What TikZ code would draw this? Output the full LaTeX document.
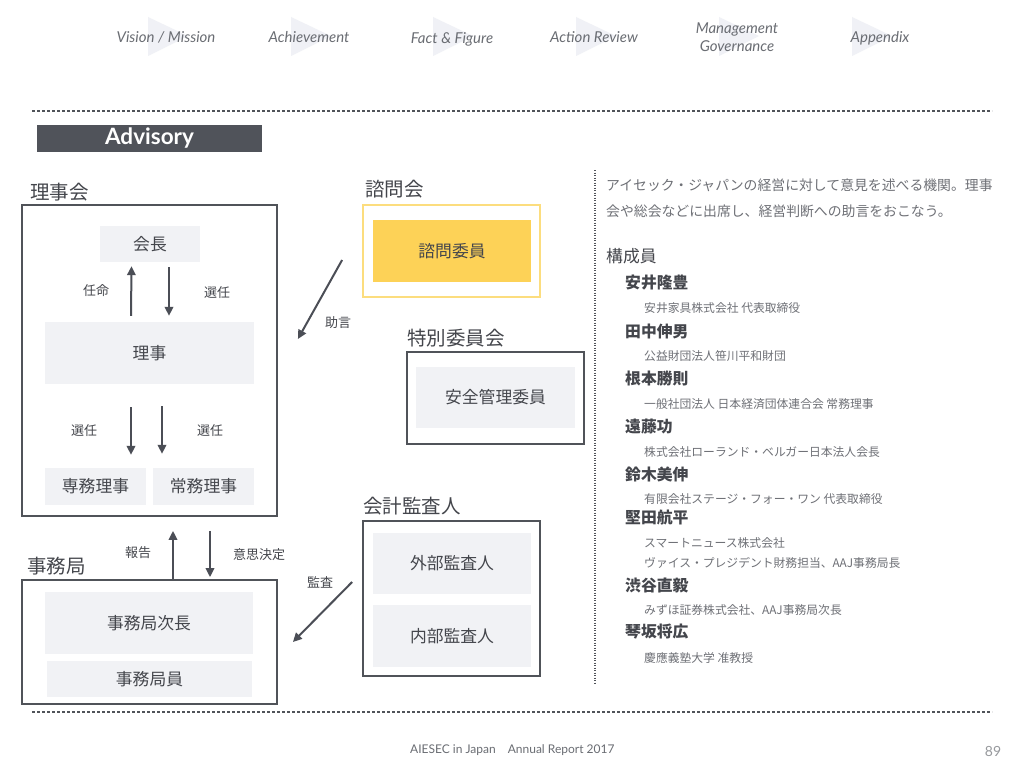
\documentclass[tikz,border=0pt]{standalone}
\usepackage{fontspec}
\setmainfont{Lato}
\newfontfamily\cjk{Noto Sans CJK JP}
\newfontfamily\lato{Lato}
\usetikzlibrary{arrows.meta}
\definecolor{framec}{HTML}{505359}
\definecolor{arrc}{HTML}{4B4E56}
\definecolor{fillc}{HTML}{F1F2F5}
\definecolor{txtc}{HTML}{44464C}
\definecolor{subc}{HTML}{6E7076}
\definecolor{yelfill}{HTML}{FDD257}
\definecolor{yelline}{HTML}{FCDD7E}
\definecolor{navc}{HTML}{6A6D73}
\definecolor{tric}{HTML}{F0F1F6}
\definecolor{banc}{HTML}{50535A}
\tikzset{
  frame/.style={draw=framec, line width=1.8pt, inner sep=0pt, fill=white},
  inbox/.style={fill=fillc, inner sep=0pt, text=txtc, font=\cjk\fontsize{16.8}{19}\selectfont},
  title/.style={anchor=west, text=txtc, inner sep=0pt, font=\cjk\fontsize{19.5}{23}\selectfont},
  lab/.style={text=txtc, inner sep=0pt, font=\cjk\fontsize{13}{15}\selectfont},
  arr/.style={draw=arrc, line width=2pt, -{Triangle[length=9pt,width=8.5pt]}},
  nav/.style={text=navc, inner sep=0pt, align=center, font=\lato\itshape\fontsize{15}{18.5}\selectfont},
  sepline/.style={draw=framec, line width=1.3pt, dash pattern=on 3pt off 2pt},
  para/.style={anchor=west, text=subc, inner sep=0pt, font=\cjk\fontsize{13.85}{16}\selectfont},
  head/.style={anchor=west, text=txtc, inner sep=0pt, font=\cjk\fontsize{16.8}{19}\selectfont},
  person/.style={anchor=west, text=txtc, inner sep=0pt, font=\cjk\bfseries\fontsize{15.8}{18}\selectfont},
  role/.style={anchor=west, text=subc, inner sep=0pt, font=\cjk\fontsize{11.8}{13}\selectfont},
}
\begin{document}
\begin{tikzpicture}[x=1pt,y=-1pt]
\useasboundingbox (0,0) rectangle (1024,768);
\fill[white] (0,0) rectangle (1024,768);
% nav triangles
\foreach \tx in {148,291,433,576,719,852}{
  \fill[tric] (\tx,17) -- (\tx+40,36) -- (\tx,56) -- cycle;
}
\node[nav] (n1) at (166,37) {Vision / Mission};
\node[nav] (n2) at (309,37) {Achievement};
\node[nav] (n3) at (452,39) {Fact \& Figure};
\node[nav] (n4) at (594,37) {Action Review};
\node[nav] (n5) at (737,37) {Management\\Governance};
\node[nav] (n6) at (880,38) {Appendix};
% separators
\coordinate (s1a) at (32,111); \coordinate (s1b) at (992,111);
\coordinate (s2a) at (32,712); \coordinate (s2b) at (992,712);
\draw[sepline] (s1a) -- (s1b);
\draw[sepline] (s2a) -- (s2b);
% banner
\node[fill=banc, minimum width=225pt, minimum height=27pt, inner sep=0pt, text=white, font=\lato\bfseries\fontsize{22.5}{26}\selectfont] (banner) at (149.5,138.5) {Advisory};
% Rijikai
\node[title] (trijikai) at (30,192) {理事会};
\node[frame, minimum width=255pt, minimum height=311pt] (rijikai) at (149.5,360.5) {};
\node[inbox, minimum width=100pt, minimum height=36pt] (kaicho) at (150,244) {会長};
\node[inbox, minimum width=209pt, minimum height=62pt] (riji) at (149.5,353) {理事};
\node[inbox, minimum width=101pt, minimum height=37pt] (senmu) at (95.5,486.5) {専務理事};
\node[inbox, minimum width=101pt, minimum height=37pt] (jomu) at (203.5,486.5) {常務理事};
\draw[arr] ([shift={(-18.5,-6)}]riji.north) -- ([shift={(-18.5,4)}]kaicho.south);
\draw[arr] ([shift={(19,5)}]kaicho.south) -- ([shift={(19.5,-6)}]riji.north);
\draw[arr] ([shift={(-18.5,23)}]riji.south) -- ([shift={(35.5,-13)}]senmu.north);
\draw[arr] ([shift={(12.5,22)}]riji.south) -- ([shift={(-41.5,-14)}]jomu.north);
\node[lab] (l1) at (96,291) {任命};
\node[lab] (l2) at (217,293) {選任};
\node[lab] (l3) at (84,431) {選任};
\node[lab] (l4) at (210,431) {選任};
% Jimukyoku
\node[title] (tjimu) at (27,566) {事務局};
\node[frame, minimum width=255pt, minimum height=124pt] (jimu) at (149.5,642) {};
\node[inbox, minimum width=208pt, minimum height=62pt] (jicho) at (149,623) {事務局次長};
\node[inbox, minimum width=205pt, minimum height=36pt] (jimuin) at (149.5,679) {事務局員};
\draw[arr] ([shift={(23.5,0)}]jimu.north) -- ([shift={(23.5,14)}]rijikai.south);
\draw[arr] ([shift={(60.5,14)}]rijikai.south) -- ([shift={(60.5,-2)}]jimu.north);
\node[lab] (l5) at (138,553) {報告};
\node[lab] (l6) at (259,555) {意思決定};
% Shimonkai
\node[title] (tshimon) at (365,189) {諮問会};
\node[draw=yelline, line width=1.8pt, inner sep=0pt, minimum width=177pt, minimum height=92pt] (shimon) at (451.5,251) {};
\node[inbox, fill=yelfill, minimum width=158pt, minimum height=62pt] (shimoniin) at (452,251) {諮問委員};
\draw[arr] ([shift={(-20,9)}]shimon.west) -- ([shift={(20,-21.5)}]rijikai.east);
\node[lab] (l7) at (338,323) {助言};
% Tokubetsu
\node[title] (ttoku) at (407,338) {特別委員会};
\node[frame, minimum width=177pt, minimum height=92pt] (toku) at (495.5,398) {};
\node[inbox, minimum width=159pt, minimum height=61pt] (anzen) at (495.5,397.5) {安全管理委員};
% Kaikei
\node[title] (tkaikei) at (363,506) {会計監査人};
\node[frame, minimum width=177pt, minimum height=155pt] (kaikei) at (451.5,598.5) {};
\node[inbox, minimum width=158pt, minimum height=61pt] (gaibu) at (452,563.5) {外部監査人};
\node[inbox, minimum width=158pt, minimum height=62pt] (naibu) at (452,636) {内部監査人};
\draw[arr] ([shift={(-10,-16.5)}]kaikei.west) -- ([shift={(15,0)}]jimu.east);
\node[lab] (l8) at (320,582) {監査};
% vertical dotted
\coordinate (va) at (595,170); \coordinate (vb) at (595,685);
\draw[draw=framec, line width=1.1pt, dash pattern=on 1pt off 1.5pt] (va) -- (vb);
% right text
\node[para] (p1) at (606,185) {アイセック・ジャパンの経営に対して意見を述べる機関。理事};
\node[para] (p2) at (606,211) {会や総会などに出席し、経営判断への助言をおこなう。};
\node[head] (kosei) at (606,256) {構成員};
\node[person] (m1) at (625,283) {安井隆豊};
\node[role] (r1) at (644,308) {安井家具株式会社 代表取締役};
\node[person] (m2) at (625,331) {田中伸男};
\node[role] (r2) at (644,356) {公益財団法人笹川平和財団};
\node[person] (m3) at (625,379) {根本勝則};
\node[role] (r3) at (644,404) {一般社団法人 日本経済団体連合会 常務理事};
\node[person] (m4) at (625,427) {遠藤功};
\node[role] (r4) at (644,452) {株式会社ローランド・ベルガー日本法人会長};
\node[person] (m5) at (625,474) {鈴木美伸};
\node[role] (r5) at (644,499) {有限会社ステージ・フォー・ワン 代表取締役};
\node[person] (m6) at (625,517) {堅田航平};
\node[role] (r6) at (644,543) {スマートニュース株式会社};
\node[role] (r6b) at (644,563) {ヴァイス・プレジデント財務担当、AAJ事務局長};
\node[person] (m7) at (625,585) {渋谷直毅};
\node[role] (r7) at (644,610) {みずほ証券株式会社、AAJ事務局次長};
\node[person] (m8) at (625,632) {琴坂将広};
\node[role] (r8) at (644,658) {慶應義塾大学 准教授};
% footer
\node[text=navc, inner sep=0pt, anchor=west, font=\lato\fontsize{12}{14}\selectfont] (foot) at (410,750) {AIESEC in Japan\hspace{12pt}Annual Report 2017};
\node[text=navc!70, inner sep=0pt, font=\lato\fontsize{14}{16}\selectfont] (page) at (993,751) {89};
\end{tikzpicture}
\end{document}
